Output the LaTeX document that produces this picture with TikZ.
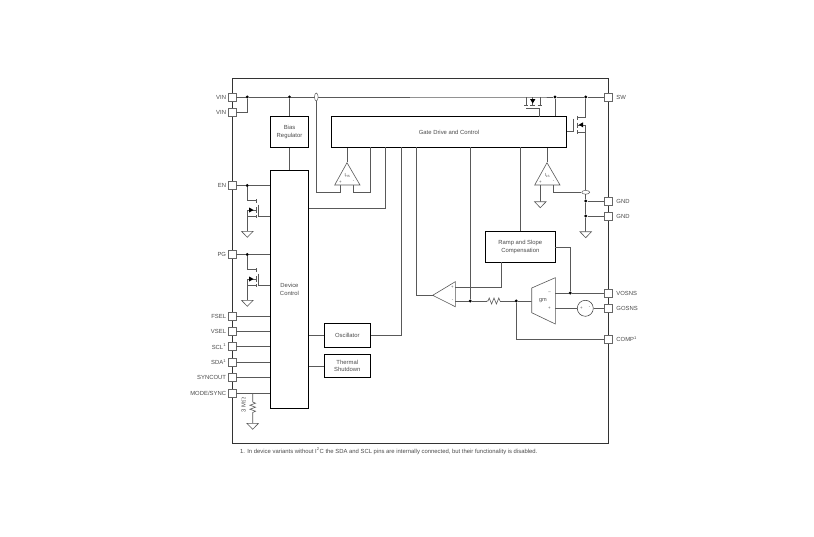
\documentclass[tikz,border=0pt]{standalone}
\usepackage{fontspec}
\setmainfont{Liberation Sans}
\usetikzlibrary{calc,shapes.geometric}
\tikzset{
  x=1pt,y=-1pt,
  wire/.style={line width=0.6pt,draw=black!65},
  frame/.style={line width=1pt,draw=black!80},
  blockbox/.style={draw=black,line width=0.8pt,fill=white,inner sep=0pt,align=center,font=\fontsize{5.9}{7.4}\selectfont,text=black!70},
  pin/.style={draw=black!60,line width=0.5pt,fill=white,minimum size=8pt,inner sep=0pt},
  pinlabel/.style={font=\fontsize{5.9}{6}\selectfont,text=black!70,inner sep=0pt},
  junction/.style={circle,fill=black,inner sep=0pt,minimum size=3.2pt},
  gndmark/.style={draw=black!65,line width=0.6pt,fill=white},
  amp/.style={draw=black!65,line width=0.6pt,fill=white},
  tinylabel/.style={font=\fontsize{4.4}{4.4}\selectfont,text=black!70,inner sep=0pt},
  solidtip/.style={fill=black,draw=none},
}
\newcommand{\gnd}[2]{\path[gndmark,draw] (#1-5.8,#2) -- (#1+5.8,#2) -- (#1,#2+6) -- cycle;}
\newcommand{\jn}[3]{\node[junction] (#1) at (#2,#3) {};}
\newcommand{\lowfet}[2]{% #1 drain-wire x, #2 drain y (left-hand pull-down FETs)
  \draw[wire] (#1,#2) -- (#1+8.3,#2);
  \draw[wire] (#1,#2+9.3) -- (#1+8.3,#2+9.3);
  \draw[wire] (#1,#2+16) -- (#1+8.3,#2+16);
  \draw[wire] (#1+8.7,#2-1.5) -- (#1+8.7,#2+1.8);
  \draw[wire] (#1+8.7,#2+6.5) -- (#1+8.7,#2+12);
  \draw[wire] (#1+8.7,#2+14.3) -- (#1+8.7,#2+17.7);
  \draw[wire] (#1+10.9,#2+4) -- (#1+10.9,#2+15.8);
  \fill[solidtip] (#1+6.3,#2+9.3) -- (#1+1.8,#2+6.8) -- (#1+1.8,#2+11.8) -- cycle;
}
\begin{document}
\begin{tikzpicture}
\useasboundingbox (0,0) rectangle (814,536);
\fill[white] (0,0) rectangle (814,536);
% outer frame
\draw[frame] (232,78) rectangle (608.5,443);

% blocks
\node[blockbox,minimum width=38.4pt,minimum height=30.6pt] (bias) at (289.5,132) {Bias\\Regulator};
\node[blockbox,minimum width=234.6pt,minimum height=30.6pt] (gate) at (449,132) {Gate Drive and Control};
\node[blockbox,minimum width=38.4pt,minimum height=238.3pt] (dev) at (289.5,289.2) {Device\\Control};
\node[blockbox,minimum width=46.7pt,minimum height=23.3pt] (osc) at (347.3,335.3) {Oscillator};
\node[blockbox,minimum width=46.7pt,minimum height=23.3pt] (therm) at (347.3,366) {Thermal\\Shutdown};
\node[blockbox,minimum width=69.3pt,minimum height=30.6pt] (ramp) at (520.3,247) {Ramp and Slope\\Compensation};

% pins
\foreach \n/\y in {vina/97,vinb/112.5,en/185.5,pg/254.5,fsel/316,vsel/331,scl/346.7,sda/362,sync/377.7,mode/393}
  \node[pin] (\n) at (232,\y) {};
\foreach \n/\y in {sw/97,gnda/201,gndb/216,vosns/293,gosns/308.3,comp/339.3}
  \node[pin] (\n) at (608.5,\y) {};

% pin labels
\foreach \n/\t in {vina/VIN,vinb/VIN,en/EN,pg/PG,fsel/FSEL,vsel/VSEL,scl/{SCL\textsuperscript{1}},sda/{SDA\textsuperscript{1}},sync/SYNCOUT,mode/{MODE/SYNC}}
  \node[pinlabel,anchor=east] (l\n) at ([xshift=-1.5pt]\n.west) {\t};
\foreach \n/\t in {sw/SW,gnda/GND,gndb/GND,vosns/VOSNS,gosns/GOSNS,comp/{COMP\textsuperscript{1}}}
  \node[pinlabel,anchor=west] (l\n) at ([xshift=3.5pt]\n.east) {\t};

% junctions
\jn{jvina}{247.3}{97}
\jn{jbias}{289.5}{97}
\jn{jsw}{555}{97}
\jn{jswb}{585.7}{97}
\jn{jgnda}{585.7}{201}
\jn{jgndb}{585.7}{216}
\jn{jen}{247.3}{185.5}
\jn{jpg}{247.3}{254.5}
\jn{jcmp}{470.3}{301}
\jn{jcomp}{516.3}{301}
\jn{jvos}{570.3}{293}

\coordinate (fetTopS) at (540.7,97);
\coordinate (fetTopD) at (526,97);

% top rail
\draw[wire] (vina.east) -- (jvina) -- (jbias) -- (fetTopD) -- (fetTopS) -- (jsw) -- (jswb) -- (sw.west);
\draw[wire] (vinb.east) -| (jvina);
\draw[wire] (jbias) -- (bias.north);
\draw[wire] (bias.south) -- (dev.north);
\draw[wire] (jsw) -- (jsw |- gate.north);

% high-side sense tap
\node[draw=black!65,line width=0.5pt,fill=white,ellipse,minimum width=3.6pt,minimum height=8pt,inner sep=0pt] (tap) at (316.3,97) {};
% HS amp
\coordinate (hsl) at (340.3,185);
\coordinate (hsr) at (353.7,185);
\node[inner sep=0pt] (hstop) at (347,162.7) {};
\draw[wire] (tap.south) -- (316.3,192.3) -| (hsl);
\draw[wire] (hsr) -- (353.7,192.3) -| (370.3,147.3);
\draw[wire] (hstop) -- (hstop |- gate.south);
\path[amp,draw] (347,162.7) -- (360,185) -- (334.7,185) -- cycle;
\node[tinylabel] (hslab) at (347.5,175) {I\textsubscript{HS}};
\node[tinylabel] (hsp) at (340.3,182.3) {+};
\node[tinylabel] (hsm) at (353.7,182.3) {-};

% low-side amp
\node[inner sep=0pt] (lstop) at (547,162.7) {};
\draw[wire] (lstop) -- (lstop |- gate.south);
\path[amp,draw] (547,162.7) -- (560,185) -- (534.7,185) -- cycle;
\node[tinylabel] (lslab) at (547.5,175) {I\textsubscript{LS}};
\node[tinylabel] (lsp) at (540.3,182.3) {+};
\node[tinylabel] (lsm) at (553.7,182.3) {-};
\draw[wire] (540.3,185) -- (540.3,201.7);
\gnd{540.3}{201.7}
\node[draw=black!65,line width=0.5pt,fill=white,ellipse,minimum width=8pt,minimum height=3.8pt,inner sep=0pt] (tapb) at (585.7,192.3) {};
\draw[wire] (553.7,185) -- (553.7,192.3) -- (tapb.west);

% low-side FET + ground rail
\draw[wire] (jswb) -- (585.7,117.5) -- (577.7,117.5);
\draw[wire] (577.7,115.8) -- (577.7,119.5);
\draw[wire] (577.7,122.5) -- (577.7,127.5);
\draw[wire] (577.7,130) -- (577.7,134);
\draw[wire] (585.7,124.8) -- (tapb.north);
\draw[wire] (585.7,132) -- (577.7,132);
\draw[wire] (577.7,124.8) -- (585.7,124.8);
\fill[solidtip] (578.8,124.8) -- (583,122.3) -- (583,127.3) -- cycle;
\draw[wire] (573.7,118.5) -- (573.7,131.7) -- (gate.east |- 0,131.7);
\draw[wire] (tapb.south) -- (jgnda) -- (jgndb) -- (585.7,231.7);
\gnd{585.7}{231.7}
\draw[wire] (jgnda) -- (gnda.west);
\draw[wire] (jgndb) -- (gndb.west);

% high-side FET
\draw[wire] (fetTopD) -- (526,105);
\draw[wire] (fetTopS) -- (540.7,105);
\draw[wire] (532.7,97) -- (532.7,105);
\draw[wire] (524,105) -- (528,105);
\draw[wire] (530,105) -- (535.3,105);
\draw[wire] (537.5,105) -- (541.7,105);
\fill[solidtip] (532.7,103.5) -- (530,99) -- (535.4,99) -- cycle;
\draw[wire] (526,108.3) -- (539.3,108.3) -- (539.3,116.7);

% gate-box drops
\draw[wire] (385.7,147.3) -- (385.7,208.3) -- (dev.east |- 0,208.3);
\draw[wire] (401,147.3) -- (401,335.3) -- (osc.east);
\draw[wire] (dev.east |- osc.west) -- (osc.west);
\draw[wire] (dev.east |- therm.west) -- (therm.west);
\draw[wire] (416.3,147.3) -- (416.3,295.3) -- (432.7,295.3);
\draw[wire] (470.3,147.3) -- (jcmp);
\draw[wire] (520.3,147.3) -- (ramp.north);

% comparator
\path[amp,draw] (432.7,295.3) -- (455.3,281.7) -- (455.3,306.7) -- cycle;
\node[tinylabel] (cp) at (452.5,287) {+};
\node[tinylabel] (cm) at (452.5,301) {-};
\draw[wire] (501.3,262.3) -- (501.3,287) -- (455.3,287);
\draw[wire] (ramp.east) -- (570.3,247) -- (jvos);

% resistor and gm
\coordinate (ra) at (486.7,301);
\coordinate (rb) at (500,301);
\draw[wire] (455.3,301) -- (jcmp) -- (ra);
\draw[wire] (ra) -- (488,301) -- (489.2,298) -- (491.6,304) -- (494,298) -- (496.4,304) -- (498.8,298) -- (rb);
\draw[wire] (rb) -- (jcomp) -- (531.7,301);
\draw[wire] (jcomp) -- (516.3,339.3) -- (comp.west);
\path[amp,draw] (531.7,288) -- (555.3,277.7) -- (555.3,324) -- (531.7,312.7) -- cycle;
\node[font=\fontsize{5.6}{6}\selectfont,text=black!70,inner sep=0pt] (gm) at (543,301) {gm};
\node[tinylabel] (gmm) at (549.5,293) {--};
\node[tinylabel] (gmp) at (549.5,308.3) {+};
\draw[wire] (555.3,293) -- (jvos) -- (vosns.west);
\node[draw=black!80,line width=0.5pt,fill=white,circle,minimum size=16pt,inner sep=0pt] (vs) at (585.3,308.3) {};
\draw[wire] (555.3,308.3) -- (vs.west);
\draw[wire] (vs.east) -- (gosns.west);
\node[tinylabel] (vsp) at (581.3,308.3) {+};
\node[tinylabel] (vsm) at (589.5,308.3) {-};

% left pins to device
\draw[wire] (en.east) -- (jen) -- (dev.west |- en);
\draw[wire] (pg.east) -- (jpg) -- (dev.west |- pg);
\foreach \n in {fsel,vsel,scl,sda,sync,mode}
  \draw[wire] (\n.east) -- (dev.west |- \n);

% pull-down FETs
\draw[wire] (jen) -- (247.3,200.7);
\lowfet{247.3}{200.7}
\draw[wire] (247.3,210) -- (247.3,231.3);
\draw[wire] (258.2,216.5) -- (dev.west |- 0,216.5);
\gnd{247.3}{231.3}
\draw[wire] (jpg) -- (247.3,269.7);
\lowfet{247.3}{269.7}
\draw[wire] (247.3,279) -- (247.3,300.3);
\draw[wire] (258.2,285.5) -- (dev.west |- 0,285.5);
\gnd{247.3}{300.3}

% pull-down resistor
\draw[wire] (252.7,393) -- (252.7,402) -- (255.5,403.2) -- (250,405.2) -- (255.5,407.2) -- (250,409.2) -- (255.5,411.2) -- (252.7,412.5) -- (252.7,423.3);
\gnd{252.7}{423.3}
\node[pinlabel,rotate=90] (rlab) at (243.7,405) {3 M$\Omega$};

% footnote
\node[font=\fontsize{5.9}{6}\selectfont,text=black!70,anchor=west,inner sep=0pt] (note) at (240,451) {1. In device variants without I\textsuperscript{2}C the SDA and SCL pins are internally connected, but their functionality is disabled.};
\end{tikzpicture}
\end{document}
